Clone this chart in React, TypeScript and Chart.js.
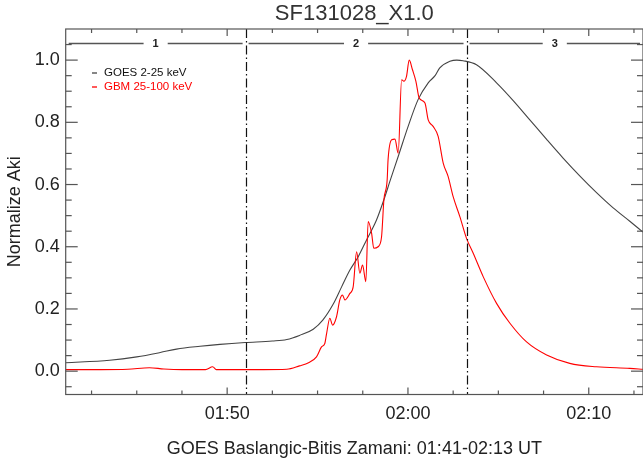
import React, { useEffect, useRef } from "react";
import { Chart, registerables } from "chart.js";

Chart.register(...registerables);

// ---- Data (time in minutes since 00:00 UT) ----
const goesTime = [101.07, 103.5, 105.0, 106.3, 107.2, 108.5, 109.6, 111.0, 112.5, 113.3, 114.0, 114.76, 115.3, 115.86, 116.33, 116.79, 117.25, 117.71, 118.26, 118.72, 119.0, 119.46, 120.01, 120.56, 121.12, 121.5, 121.76, 122.32, 122.7, 123.05, 123.79, 124.9, 125.82, 126.74, 127.67, 128.58, 129.5, 130.43, 131.35, 132.27, 133.0];
const goesValue = [0.027, 0.035, 0.046, 0.060, 0.071, 0.080, 0.086, 0.092, 0.097, 0.102, 0.115, 0.135, 0.165, 0.215, 0.271, 0.325, 0.368, 0.422, 0.486, 0.56, 0.61, 0.69, 0.787, 0.873, 0.927, 0.95, 0.975, 0.996, 1.0, 0.998, 0.985, 0.927, 0.870, 0.808, 0.745, 0.685, 0.628, 0.574, 0.525, 0.482, 0.447];

const gbmTime = [101.07, 103.0, 104.5, 105.7, 106.5, 107.5, 108.8, 109.2, 109.4, 110.5, 112.0, 113.3, 114.0, 114.5, 114.94, 115.22, 115.4, 115.5, 115.68, 115.83, 116.05, 116.23, 116.38, 116.51, 116.79, 116.97, 117.16, 117.34, 117.49, 117.67, 117.8, 117.99, 118.11, 118.35, 118.54, 118.67, 118.85, 118.9, 119.1, 119.28, 119.46, 119.65, 119.77, 119.92, 120.07, 120.25, 120.44, 120.62, 120.94, 121.12, 121.39, 121.67, 121.95, 122.22, 122.5, 122.87, 123.24, 123.61, 124.16, 124.9, 125.64, 126.56, 127.67, 128.95, 130.43, 132.27, 133.0];
const gbmValue = [0.005, 0.005, 0.006, 0.011, 0.007, 0.005, 0.005, 0.014, 0.005, 0.005, 0.005, 0.006, 0.017, 0.027, 0.046, 0.078, 0.089, 0.121, 0.170, 0.148, 0.175, 0.229, 0.245, 0.229, 0.25, 0.271, 0.384, 0.315, 0.341, 0.288, 0.481, 0.443, 0.395, 0.40, 0.432, 0.551, 0.615, 0.68, 0.744, 0.746, 0.701, 0.937, 0.932, 0.948, 1.0, 0.969, 0.932, 0.878, 0.862, 0.808, 0.787, 0.755, 0.669, 0.626, 0.561, 0.497, 0.427, 0.379, 0.304, 0.218, 0.154, 0.094, 0.052, 0.025, 0.014, 0.009, 0.006];

const seriesLabels = ["GOES 2-25 keV", "GBM 25-100 keV"];
const xTickValues = [110, 120, 130];
const xTickLabels = ["01:50", "02:00", "02:10"];
const xMinorTicks = [102.5, 105, 107.5, 112.5, 115, 117.5, 122.5, 125, 127.5, 132.5];
const yTickValues = [0, 0.2, 0.4, 0.6, 0.8, 1.0];
const yMinorTicks = [-0.05, 0.05, 0.1, 0.15, 0.25, 0.3, 0.35, 0.45, 0.5, 0.55, 0.65, 0.7, 0.75, 0.85, 0.9, 0.95, 1.05];
const phaseMarkers = [111.02, 123.24];
const phaseLabels = ["1", "2", "3"];
const phaseLevel = 1.055;

const titleText = "SF131028_X1.0";
const xTitle = "GOES Baslangic-Bitis Zamani: 01:41-02:13 UT";
const yTitle = "Normalize Aki";

const X_MIN = 101.07;
const X_MAX = 133.0;
const Y_MIN = -0.075;
const Y_MAX = 1.1;

const FONT = "'Liberation Sans', Arial, sans-serif";

const overlay = {
  id: "overlay",
  afterDatasetsDraw(chart: any) {
    const { ctx, chartArea: a } = chart;
    const x = chart.scales.x;
    const y = chart.scales.y;
    ctx.save();
    const line = (x1: number, y1: number, x2: number, y2: number) => {
      ctx.beginPath();
      ctx.moveTo(x1, y1);
      ctx.lineTo(x2, y2);
      ctx.stroke();
    };

    // phase marker dash-dot lines
    ctx.strokeStyle = "#111";
    ctx.lineWidth = 1.2;
    ctx.setLineDash([9, 3, 1.5, 3]);
    phaseMarkers.forEach((t) => {
      const px = Math.round(x.getPixelForValue(t)) + 0.5;
      line(px, a.top, px, a.bottom);
    });
    ctx.setLineDash([]);

    // axis box
    ctx.strokeStyle = "#555";
    ctx.lineWidth = 1.2;
    ctx.strokeRect(a.left, a.top, a.right - a.left, a.bottom - a.top);

    // x ticks (bottom & top, inward)
    xTickValues.forEach((v) => {
      const px = x.getPixelForValue(v);
      line(px, a.bottom, px, a.bottom - 7);
      line(px, a.top, px, a.top + 7);
    });
    xMinorTicks.forEach((v) => {
      const px = x.getPixelForValue(v);
      line(px, a.bottom, px, a.bottom - 4);
      line(px, a.top, px, a.top + 4);
    });
    // y ticks (left & right, inward)
    yTickValues.forEach((v) => {
      const py = y.getPixelForValue(v);
      line(a.left, py, a.left + 12, py);
      line(a.right, py, a.right - 12, py);
    });
    yMinorTicks.forEach((v) => {
      const py = y.getPixelForValue(v);
      line(a.left, py, a.left + 6, py);
      line(a.right, py, a.right - 6, py);
    });

    // phase brackets
    const bounds = [X_MIN, ...phaseMarkers, X_MAX].map((t) => x.getPixelForValue(t));
    const by = Math.round(y.getPixelForValue(phaseLevel)) + 0.5;
    ctx.font = `bold 11px ${FONT}`;
    ctx.textAlign = "center";
    ctx.textBaseline = "middle";
    ctx.fillStyle = "#222";
    ctx.strokeStyle = "#555";
    ctx.lineWidth = 1.3;
    for (let i = 0; i < phaseLabels.length; i++) {
      const l = bounds[i] + 3;
      const r = bounds[i + 1] - 3;
      const c = (bounds[i] + bounds[i + 1]) / 2;
      const w = ctx.measureText(phaseLabels[i]).width / 2 + 9;
      line(l, by, c - w, by);
      line(c + w, by, r, by);
      ctx.fillText(phaseLabels[i], c, by);
    }

    // legend
    ctx.font = `11.5px ${FONT}`;
    ctx.textAlign = "left";
    chart.data.datasets.forEach((ds: any, i: number) => {
      const ly = 73 + i * 14;
      ctx.strokeStyle = ds.borderColor;
      ctx.lineWidth = 1.3;
      line(92, ly, 97, ly);
      ctx.fillStyle = ds.borderColor === "#444444" ? "#111" : ds.borderColor;
      ctx.fillText(ds.label, 104, ly);
    });

    // titles
    const cx = (a.left + a.right) / 2;
    ctx.fillStyle = "#333";
    ctx.textAlign = "center";
    ctx.font = `22px ${FONT}`;
    ctx.fillText(titleText, cx, 14);
    ctx.fillStyle = "#222";
    ctx.font = `18px ${FONT}`;
    ctx.fillText(xTitle, cx, 449);
    ctx.save();
    ctx.translate(15, (a.top + a.bottom) / 2);
    ctx.rotate(-Math.PI / 2);
    ctx.fillText(yTitle, 0, 0);
    ctx.restore();

    ctx.restore();
  },
};

export default function App() {
  const ref = useRef<HTMLCanvasElement | null>(null);
  useEffect(() => {
    document.body.style.margin = "0";
    const canvas = ref.current!;
    const chart = new Chart(canvas, {
      type: "line",
      data: {
        datasets: [
          {
            label: seriesLabels[0],
            data: goesTime.map((t, i) => ({ x: t, y: goesValue[i] })),
            borderColor: "#444444",
            borderWidth: 1.1,
            pointRadius: 0,
            cubicInterpolationMode: "monotone",
            order: 1,
          },
          {
            label: seriesLabels[1],
            data: gbmTime.map((t, i) => ({ x: t, y: gbmValue[i] })),
            borderColor: "#ff0000",
            borderWidth: 1.1,
            pointRadius: 0,
            cubicInterpolationMode: "monotone",
            order: 0,
          },
        ],
      },
      options: {
        responsive: false,
        animation: false,
        devicePixelRatio: 1,
        layout: { padding: { top: 29, left: 0, right: 0, bottom: 0 } },
        plugins: { legend: { display: false }, tooltip: { enabled: false }, title: { display: false } },
        scales: {
          x: {
            type: "linear",
            min: X_MIN,
            max: X_MAX,
            grid: { display: false, drawTicks: false },
            border: { display: false },
            afterBuildTicks: (s: any) => {
              s.ticks = xTickValues.map((v) => ({ value: v }));
            },
            afterFit: (s: any) => {
              s.height = 71.5;
            },
            ticks: {
              autoSkip: false,
              maxRotation: 0,
              padding: 9,
              color: "#222",
              font: { family: FONT, size: 18 },
              callback: (v: any) => {
                const i = xTickValues.indexOf(Number(v));
                return i >= 0 ? xTickLabels[i] : "";
              },
            },
          },
          y: {
            type: "linear",
            min: Y_MIN,
            max: Y_MAX,
            grid: { display: false, drawTicks: false },
            border: { display: false },
            afterBuildTicks: (s: any) => {
              s.ticks = yTickValues.map((v) => ({ value: v }));
            },
            afterFit: (s: any) => {
              s.width = 65.7;
            },
            ticks: {
              padding: 6,
              color: "#222",
              font: { family: FONT, size: 18 },
              callback: (v: any) => Number(v).toFixed(1),
            },
          },
        },
      },
      plugins: [overlay],
    });
    return () => chart.destroy();
  }, []);
  return <canvas ref={ref} width={643} height={466} style={{ display: "block" }} />;
}
